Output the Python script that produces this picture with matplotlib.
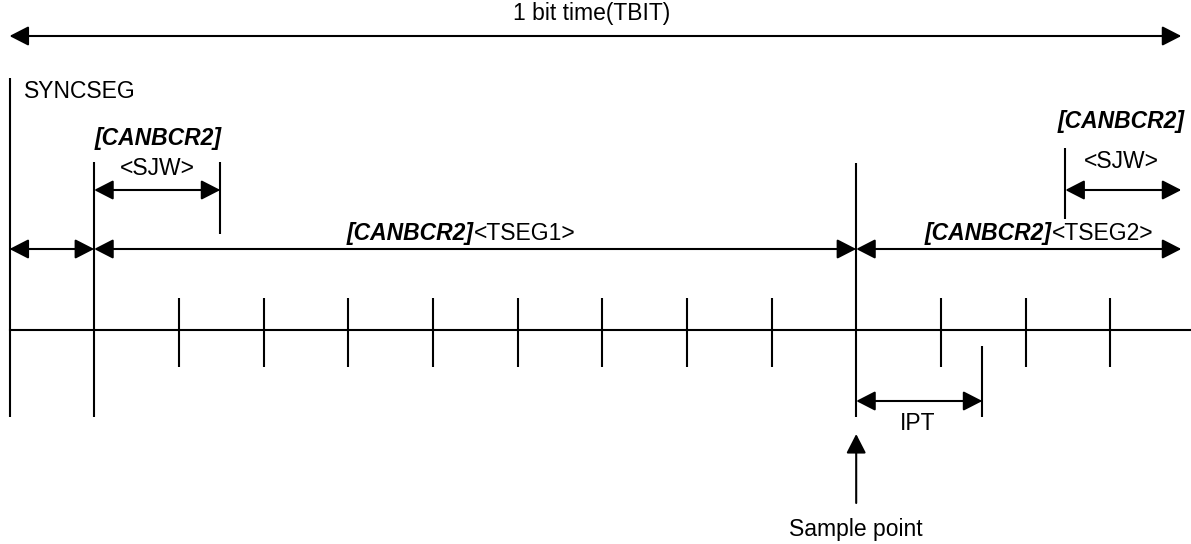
import matplotlib
matplotlib.use("Agg")
import matplotlib.pyplot as plt

plt.rcParams['font.family'] = ['Liberation Sans', 'DejaVu Sans']

# positions in time quanta (tq)
seg_bounds = [0, 1, 10]          # SYNCSEG start, TSEG1 start, sample point
bit_end = 13.84                  # end of bit time
short_ticks = [2, 3, 4, 5, 6, 7, 8, 9, 11, 12, 13]
sjw_len = 1.49
ipt_len = 1.49
sjw_right_start = 12.47

reg_name = "[CANBCR2]"
tseg_labels = ["<TSEG1>", "<TSEG2>"]

fig = plt.figure(figsize=(11.91, 5.44), dpi=100)
ax = fig.add_axes([0, 0, 1, 1])
px = 84.67
ax.set_xlim(-9.5 / px, (1191 - 9.5) / px)
ax.set_ylim(544, 0)
ax.axis('off')

lw = 1.5
fs = 16.5
head = ',head_length=0.78,head_width=0.4'


def vline(x, y0, y1):
    ax.plot([x, x], [y0, y1], color='black', lw=lw, solid_capstyle='butt')


def darrow(x0, x1, y, style='<|-|>'):
    ax.annotate('', xy=(x1, y), xytext=(x0, y),
                arrowprops=dict(arrowstyle=style + head,
                                mutation_scale=15, color='black', lw=lw,
                                shrinkA=0, shrinkB=0))


# bit time
darrow(0, bit_end, 36)
ax.text(bit_end / 2 - 0.05, 20, "1 bit time(TBIT)", ha='center', va='baseline', fontsize=fs)

# timeline
ax.plot([0, ax.get_xlim()[1]], [330, 330], color='black', lw=lw)
for t in short_ticks:
    vline(t, 298, 367)

# long lines
vline(seg_bounds[0], 78, 417)
vline(seg_bounds[1], 162, 417)
vline(seg_bounds[2], 163, 417)
ax.text(0.17, 98, "SYNCSEG", ha='left', va='baseline', fontsize=fs)

# segment arrows
darrow(seg_bounds[0], seg_bounds[1], 249)
darrow(seg_bounds[1], seg_bounds[2], 249)
darrow(seg_bounds[2], bit_end, 249)

split1 = (474 - 9.5) / px
split2 = (1052 - 9.5) / px
for split, lab in zip([split1, split2], tseg_labels):
    ax.text(split, 240, reg_name, ha='right', va='baseline', fontsize=fs,
            fontweight='bold', fontstyle='italic')
    ax.text(split, 240, lab, ha='left', va='baseline', fontsize=fs)

# left SJW
vline(seg_bounds[1] + sjw_len, 162, 234)
darrow(seg_bounds[1], seg_bounds[1] + sjw_len, 190)
ax.text(seg_bounds[1] + sjw_len / 2 + 0.01, 145, reg_name, ha='center', va='baseline',
        fontsize=fs, fontweight='bold', fontstyle='italic')
ax.text(seg_bounds[1] + sjw_len / 2, 175, "<SJW>", ha='center', va='baseline', fontsize=fs)

# right SJW
vline(sjw_right_start, 148, 219)
darrow(sjw_right_start, bit_end, 190)
ax.text(13.13, 128, reg_name, ha='center', va='baseline',
        fontsize=fs, fontweight='bold', fontstyle='italic')
ax.text(13.13, 168, "<SJW>", ha='center', va='baseline', fontsize=fs)

# IPT
vline(seg_bounds[2] + ipt_len, 346, 417)
darrow(seg_bounds[2], seg_bounds[2] + ipt_len, 401)
ax.text(seg_bounds[2] + 0.73, 430, "IPT", ha='center', va='baseline', fontsize=fs)

# sample point
ax.annotate('', xy=(seg_bounds[2], 434), xytext=(seg_bounds[2], 503),
            arrowprops=dict(arrowstyle='-|>' + head,
                            mutation_scale=15, color='black', lw=lw,
                            shrinkA=0, shrinkB=0))
ax.text(seg_bounds[2], 536, "Sample point", ha='center', va='baseline', fontsize=fs)

fig.savefig("out.png", dpi=100, facecolor='white')
